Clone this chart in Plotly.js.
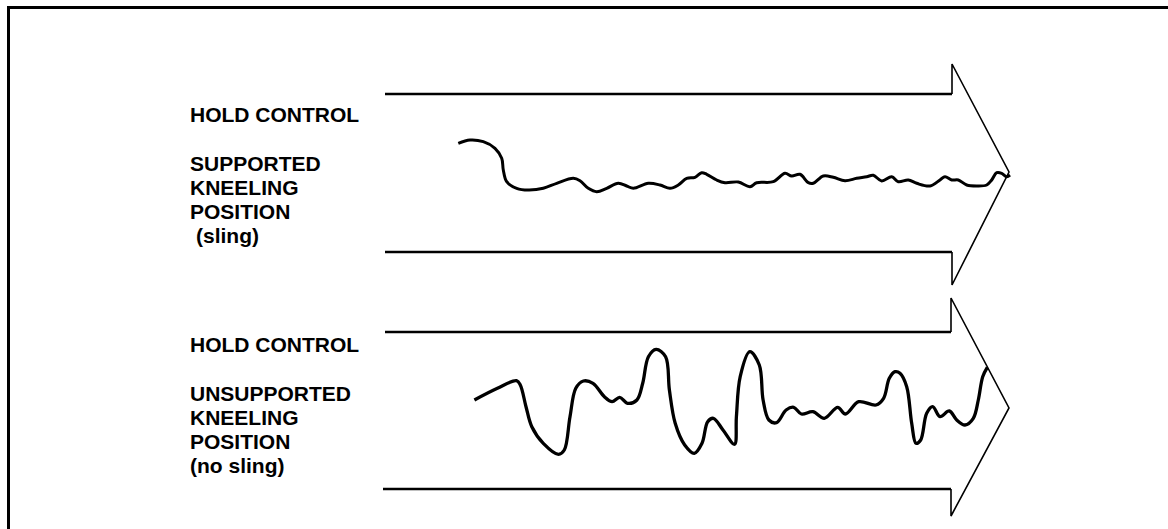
<!DOCTYPE html>
<html>
<head>
<meta charset="utf-8">
<script src="https://cdn.plot.ly/plotly-3.0.1.min.js"></script>
<style>html,body{margin:0;padding:0;background:#fff;}#chart{width:1168px;height:529px;}</style>
</head>
<body>
<div id="chart"></div>
<script>
// Trace of sight movement, supported kneeling position (sling)
const supportedX = [458.3,470,483.3,495,501.7,503.3,506.7,516.7,528.3,543.3,556.7,573.3,580,588.3,596.7,606.7,618.3,626.7,633.3,648.3,660,670,678.3,686.7,695,701.7,706.7,716.7,725,738.3,750,756.7,773.3,785,791.7,800,808.3,813.3,823.3,833.3,845,856.7,866.7,873.3,881.7,891.7,898.3,908.3,916.7,930,940,945,951.7,958.3,966.7,976.7,986.7,991.7,996.7,1001.7,1006.7,1010];
const supportedY = [143.3,140,141.7,148.3,158.3,170,181.7,188.3,190,188.3,183.3,178.3,180.7,188.3,191.7,188.3,183.3,186,188.3,183.3,185,188.3,185,178.3,177.3,172.7,174.3,180,182.7,182,186.7,182.7,181.7,173.3,176,174.3,182.7,183.3,176,177.3,180.7,178.3,176.7,175.3,181,176.7,181.7,180,183.3,186,180,176.7,180,180,185,186,185,180,172.7,173.3,176.7,175];

// Trace of sight movement, unsupported kneeling position (no sling)
const unsupportedX = [474.4,497.4,516.5,520.3,526,531.8,543.3,558.5,564.3,570,575.8,583.4,593,604.4,612.1,619.7,627.4,636.9,642.7,648.4,656.1,665.6,669.4,675.2,684.7,694.3,702,707.7,713.4,723,734.5,736.4,740.2,749.8,759.3,763.1,768.9,776.5,786.1,793.7,801.4,812.8,824.3,837.7,845.4,858.7,876,883.6,889.3,895.1,900,906.7,911.7,916,920.7,926.7,932.7,940,949.3,956.7,965,973.3,978.3,982.7,987.3];
const unsupportedY = [400,388.3,380.7,385,406.7,426.7,443.3,454.3,450,416.7,388.3,381,383.3,396.7,401.7,397.3,403.3,400,383.3,356.7,349.3,356.7,390,423.3,445,453.3,443.3,421.7,418.3,430,444.3,416.7,376.7,351.7,365,400,420,422.7,410,407.3,414,411.7,418.3,407.3,414,401.7,405,398.3,378.3,371.7,373.3,386.7,423.3,443.3,440,413.3,406.7,416.7,411,420,425,418.3,400,376.7,367.3];

// Label lines
const topLabels = ["HOLD CONTROL", "SUPPORTED", "KNEELING", "POSITION", "(sling)"];
const bottomLabels = ["HOLD CONTROL", "UNSUPPORTED", "KNEELING", "POSITION", "(no sling)"];

const traces = [
  {x: supportedX, y: supportedY, mode: 'lines', line: {color: '#000', width: 3, shape: 'spline', smoothing: 1}, hoverinfo: 'skip', showlegend: false},
  {x: unsupportedX, y: unsupportedY, mode: 'lines', line: {color: '#000', width: 3.3, shape: 'spline', smoothing: 1}, hoverinfo: 'skip', showlegend: false}
];

const topBaselines = [121.7, 170.7, 195, 219, 243];
const botBaselines = [351.7, 400.7, 425, 449, 473];
const annotations = [];
function addLabels(labels, baselines) {
  labels.forEach((t, i) => {
    const indent = (labels === topLabels && i === 4) ? 5.7 : 0;
    annotations.push({
      x: 188 + indent, y: baselines[i] - 7.5, xref: 'x', yref: 'y',
      text: '<b>' + t + '</b>', showarrow: false, xanchor: 'left', yanchor: 'middle',
      font: {family: 'Liberation Sans, Arial, sans-serif', size: 21, color: '#000'}
    });
  });
}
addLabels(topLabels, topBaselines);
addLabels(bottomLabels, botBaselines);

const shapes = [
  // frame
  {type: 'rect', xref: 'x', yref: 'y', x0: 8.5, y0: 7.5, x1: 1190, y1: 560, line: {color: '#000', width: 3}},
  // arrow 1 shaft
  {type: 'path', path: 'M385,94 L952,94', line: {color: '#000', width: 2.5}},
  {type: 'path', path: 'M385,252 L952,252', line: {color: '#000', width: 2.5}},
  {type: 'path', path: 'M952,94 L952,64 L1009,172 L952,285 L952,252', line: {color: '#000', width: 1.6}},
  // arrow 2 shaft
  {type: 'path', path: 'M385,332 L951,332', line: {color: '#000', width: 2.5}},
  {type: 'path', path: 'M383,489 L951,489', line: {color: '#000', width: 2.5}},
  {type: 'path', path: 'M951,332 L951,298 L1009,408 L951,516 L951,489', line: {color: '#000', width: 1.6}}
];

const layout = {
  width: 1168, height: 529,
  margin: {l: 0, r: 0, t: 0, b: 0, pad: 0},
  paper_bgcolor: '#fff', plot_bgcolor: '#fff',
  xaxis: {range: [0, 1168], visible: false, fixedrange: true},
  yaxis: {range: [529, 0], visible: false, fixedrange: true},
  shapes: shapes,
  annotations: annotations,
  showlegend: false
};

Plotly.newPlot('chart', traces, layout, {staticPlot: true, displayModeBar: false});
</script>
</body>
</html>
